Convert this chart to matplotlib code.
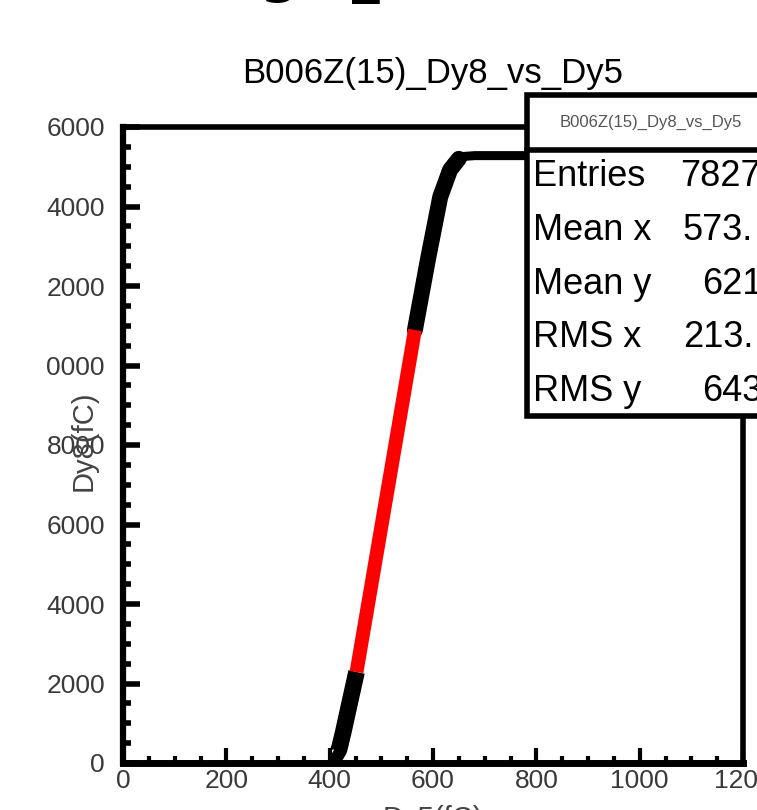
"""ROOT 风格 Dy8 vs Dy5 散点 + 线性拟合 (截图复刻)。"""
import matplotlib

matplotlib.use("Agg")
import matplotlib.pyplot as plt
from matplotlib.patches import Rectangle
from matplotlib.lines import Line2D
from matplotlib.ticker import MultipleLocator

plt.rcParams["font.family"] = ["Liberation Sans", "DejaVu Sans"]

# 数据 (从图上读出, 单位 fC)
low_x = [405, 412, 418, 426, 440, 452]
low_y = [250, 200, 330, 760, 1585, 2290]
fit_x = [452, 565]
fit_y = [2290, 10894]
up_x = [565, 590, 614, 633, 650]
up_y = [10894, 12655, 14241, 14920, 15200]
flat_x = [645, 660, 681, 900]
flat_y = [15180, 15260, 15280, 15280]

x_ticks = [0, 200, 400, 600, 800, 1000, 1200]
y_ticks = [0, 2000, 4000, 6000, 8000, 10000, 12000, 14000, 16000]
y_ticklabels = ["0", "2000", "4000", "6000", "8000", "0000", "2000", "4000", "6000"]

stat_names = ["Entries", "Mean x", "Mean y", "RMS x", "RMS y"]
stat_values = ["7827", "573.", "621", "213.", "643"]
stat_value_x = [680, 683, 702, 683, 702]   # 像素, 右侧被截掉

W, H = 757, 810
fig = plt.figure(figsize=(W / 100, H / 100), dpi=100)
ax = fig.add_axes([123 / W, 47 / H, 620 / W, 636 / H])

ax.plot(low_x, low_y, "-", color="black", lw=12, solid_capstyle="butt", zorder=2)
ax.plot(up_x, up_y, "-", color="black", lw=11.5, solid_capstyle="round", zorder=2)
ax.plot(flat_x, flat_y, "-", color="black", lw=6.5, solid_capstyle="round", zorder=2)
ax.plot(fit_x, fit_y, "-", color="red", lw=10, solid_capstyle="butt", zorder=3)

ax.set_xlim(0, 1200)
ax.set_ylim(0, 16000)
ax.set_xticks(x_ticks)
ax.set_yticks(y_ticks)
ax.set_yticklabels(y_ticklabels)
ax.xaxis.set_minor_locator(MultipleLocator(50))
ax.yaxis.set_minor_locator(MultipleLocator(500))
ax.tick_params(which="both", direction="in", top=False, right=False, color="black",
               labelcolor="#3a3a3a", labelsize=19)
ax.tick_params(axis="x", which="major", length=11, width=3, pad=4)
ax.tick_params(axis="x", which="minor", length=5, width=3)
ax.tick_params(axis="y", which="major", length=12, width=4, pad=13)
ax.tick_params(axis="y", which="minor", length=6, width=4)
for sp in ax.spines.values():
    sp.set_linewidth(4)
    sp.set_color("black")
ax.spines["bottom"].set_linewidth(5)
ax.spines["left"].set_linewidth(4.5)

# 标题 / 轴标题
fig.text(433 / W, 1 - 83 / H, "B006Z(15)_Dy8_vs_Dy5", ha="center", va="baseline",
         fontsize=25, color="black")
fig.text(84 / W, 1 - 441 / H, "Dy8(fC)", rotation=90, ha="center", va="center",
         fontsize=21, color="#444444")
fig.text(433 / W, 1 - 805 / H, "Dy5(fC)", ha="center", va="top",
         fontsize=21, color="#444444")

# 顶部被截掉的大标题残留
fig.text(279 / W, 1 + 9 / H, "g", ha="center", va="baseline", fontsize=40,
         fontweight="bold", family="DejaVu Sans")
fig.text(366 / W, 1 + 9 / H, "_", ha="center", va="baseline", fontsize=40,
         fontweight="bold", family="DejaVu Sans")

# 统计框
box = Rectangle((527 / W, 1 - 416 / H), 300 / W, 321 / H, transform=fig.transFigure,
                facecolor="white", edgecolor="black", lw=4, zorder=5)
fig.patches.append(box)
fig.lines.append(Line2D([527 / W, 1.2], [1 - 150 / H, 1 - 150 / H],
                        transform=fig.transFigure, color="black", lw=4, zorder=6))
fig.text(560 / W, 1 - 122 / H, "B006Z(15)_Dy8_vs_Dy5", ha="left", va="center",
         fontsize=12, color="#555555", zorder=7)
for i, (name, val, vx) in enumerate(zip(stat_names, stat_values, stat_value_x)):
    yc = 1 - (177 + 53.6 * i) / H
    fig.text(533 / W, yc, name, ha="left", va="center", fontsize=26, color="black", zorder=7)
    fig.text(vx / W, yc, val, ha="left", va="center", fontsize=26, color="black", zorder=7)

fig.savefig("out.png", dpi=100)
plt.close(fig)
